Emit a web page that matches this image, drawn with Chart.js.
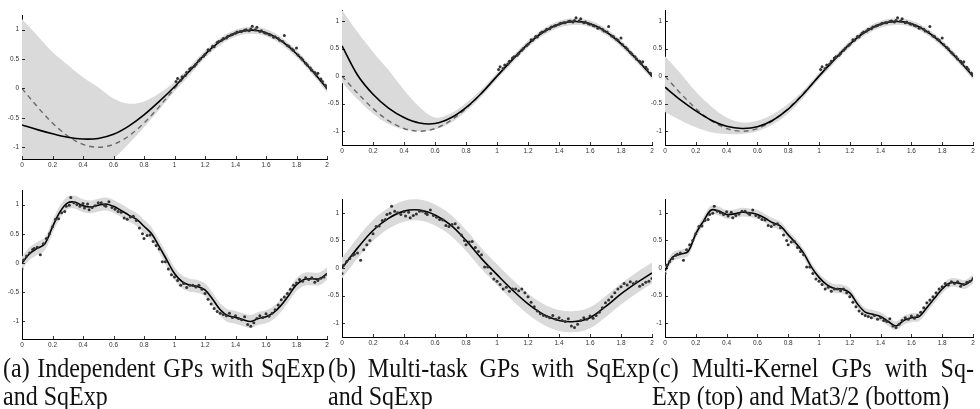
<!DOCTYPE html>
<html>
<head>
<meta charset="utf-8">
<script src="https://cdn.jsdelivr.net/npm/chart.js@4.4.0/dist/chart.umd.min.js"></script>
<style>
  body { margin: 0; background: #fff; width: 980px; height: 409px; position: relative; overflow: hidden; }
  canvas { position: absolute; }
  .cap { position: absolute; width: 322px; font-family: "Liberation Serif", "Times New Roman", serif; font-size: 24px; line-height: 23px;
         color: #111; transform: scaleY(1.18); transform-origin: 0 0; }
  .cap .l1 { display: flex; justify-content: space-between; white-space: nowrap; }
  .cap .l2 { white-space: nowrap; }
</style>
</head>
<body>

<canvas id="topA"></canvas>
<canvas id="topB"></canvas>
<canvas id="topC"></canvas>
<canvas id="botA"></canvas>
<canvas id="botB"></canvas>
<canvas id="botC"></canvas>

<div class="cap" style="left:3px; top:355px;">
  <div class="l1"><span>(a)</span><span>Independent</span><span>GPs</span><span>with</span><span>SqExp</span></div>
  <div class="l2">and SqExp</div>
</div>
<div class="cap" style="left:328px; top:355px;">
  <div class="l1"><span>(b)</span><span>Multi-task</span><span>GPs</span><span>with</span><span>SqExp</span></div>
  <div class="l2">and SqExp</div>
</div>
<div class="cap" style="left:652px; top:355px;">
  <div class="l1"><span>(c)</span><span>Multi-Kernel</span><span>GPs</span><span>with</span><span>Sq-</span></div>
  <div class="l2">Exp (top) and Mat3/2 (bottom)</div>
</div>

<script>
'use strict';

// tick labels
const xTicks = [0, 0.2, 0.4, 0.6, 0.8, 1, 1.2, 1.4, 1.6, 1.8, 2];
const yTicks = [-1, -0.5, 0, 0.5, 1];

// sample grids
const xGrid = [0, 0.1, 0.2, 0.3, 0.4, 0.5, 0.6, 0.7, 0.8, 0.9, 1, 1.1, 1.2, 1.3, 1.4, 1.5, 1.6, 1.7, 1.8, 1.9, 2];
const xFine = [0, 0.05, 0.1, 0.15, 0.2, 0.25, 0.3, 0.35, 0.4, 0.45, 0.5, 0.55, 0.6, 0.65, 0.7, 0.75, 0.8, 0.85, 0.9, 0.95,
  1, 1.05, 1.1, 1.15, 1.2, 1.25, 1.3, 1.35, 1.4, 1.45, 1.5, 1.55, 1.6, 1.65, 1.7, 1.75, 1.8, 1.85, 1.9, 1.95, 2];

// top row: true function (dashed), on xFine
const trueTop = [0, -0.156, -0.309, -0.454, -0.588, -0.707, -0.809, -0.891, -0.951, -0.988, -1, -0.988, -0.951, -0.891, -0.809, -0.707,
  -0.588, -0.454, -0.309, -0.156, 0, 0.156, 0.309, 0.454, 0.588, 0.707, 0.809, 0.891, 0.951, 0.988, 1, 0.988, 0.951, 0.891,
  0.809, 0.707, 0.588, 0.454, 0.309, 0.156, 0];

// top row observations (only on [1, 2])
const topPtsX = [1.01, 1.02, 1.04, 1.05, 1.07, 1.08, 1.10, 1.11, 1.13, 1.14, 1.16, 1.17, 1.19, 1.20, 1.22, 1.23, 1.25, 1.26, 1.28, 1.29,
  1.31, 1.32, 1.34, 1.35, 1.37, 1.38, 1.40, 1.41, 1.43, 1.44, 1.46, 1.47, 1.49, 1.50, 1.51, 1.53, 1.54, 1.56, 1.57, 1.59,
  1.60, 1.62, 1.63, 1.65, 1.66, 1.68, 1.69, 1.71, 1.72, 1.74, 1.75, 1.77, 1.78, 1.80, 1.81, 1.83, 1.84, 1.86, 1.87, 1.89,
  1.90, 1.92, 1.93, 1.94, 1.96, 1.97, 1.99, 2.00];
const topPtsY = [0.12, 0.17, 0.14, 0.20, 0.22, 0.27, 0.33, 0.35, 0.38, 0.41, 0.47, 0.50, 0.55, 0.58, 0.66, 0.65, 0.72, 0.71, 0.78, 0.80,
  0.82, 0.85, 0.86, 0.89, 0.91, 0.92, 0.94, 0.96, 0.97, 0.97, 0.99, 1.00, 0.98, 1.01, 1.06, 1.00, 1.04, 0.97, 0.98, 0.95,
  0.94, 0.92, 0.91, 0.87, 0.88, 0.85, 0.82, 0.80, 0.90, 0.73, 0.72, 0.67, 0.65, 0.69, 0.57, 0.52, 0.49, 0.43, 0.40, 0.35,
  0.31, 0.27, 0.23, 0.26, 0.16, 0.12, 0.05, 0.01];

// top row fits, on xGrid
const meanTopA  = [-0.62, -0.70, -0.77, -0.83, -0.86, -0.85, -0.78, -0.64, -0.45, -0.22, 0.03, 0.30, 0.58, 0.80, 0.94, 0.99, 0.95, 0.81, 0.59, 0.31, 0.00];
const upperTopA = [1.18, 0.90, 0.62, 0.40, 0.19, 0.02, -0.17, -0.26, -0.22, -0.08, 0.11, 0.37, 0.64, 0.86, 1.00, 1.05, 1.01, 0.87, 0.65, 0.37, 0.07];
const lowerTopA = [-2.40, -2.30, -2.15, -1.95, -1.70, -1.45, -1.20, -0.94, -0.66, -0.36, -0.05, 0.23, 0.52, 0.74, 0.88, 0.93, 0.89, 0.75, 0.53, 0.25, -0.07];

const meanTopB  = [0.55, 0.02, -0.33, -0.58, -0.75, -0.85, -0.86, -0.76, -0.57, -0.31, 0.00, 0.30, 0.58, 0.80, 0.94, 0.99, 0.95, 0.81, 0.59, 0.31, 0.00];
const upperTopB = [1.20, 0.80, 0.44, 0.11, -0.25, -0.56, -0.75, -0.68, -0.49, -0.24, 0.06, 0.36, 0.64, 0.86, 1.00, 1.05, 1.01, 0.87, 0.65, 0.37, 0.06];
const lowerTopB = [-0.12, -0.42, -0.68, -0.87, -0.97, -1.00, -0.97, -0.85, -0.64, -0.37, -0.06, 0.24, 0.52, 0.74, 0.88, 0.93, 0.89, 0.75, 0.53, 0.25, -0.06];

const meanTopC  = [-0.20, -0.43, -0.63, -0.80, -0.91, -0.95, -0.92, -0.80, -0.60, -0.32, 0.00, 0.30, 0.58, 0.80, 0.94, 0.99, 0.95, 0.81, 0.59, 0.31, 0.00];
const upperTopC = [0.36, 0.05, -0.28, -0.55, -0.75, -0.84, -0.81, -0.69, -0.50, -0.25, 0.06, 0.36, 0.64, 0.86, 1.00, 1.05, 1.01, 0.87, 0.65, 0.37, 0.06];
const lowerTopC = [-0.65, -0.80, -0.93, -1.02, -1.05, -1.05, -1.00, -0.88, -0.68, -0.39, -0.06, 0.24, 0.52, 0.74, 0.88, 0.93, 0.89, 0.75, 0.53, 0.25, -0.06];

// bottom row observations [x, y]
const botPoints = [[0.00, -0.10], [0.01, 0.05], [0.03, 0.12], [0.05, 0.17], [0.07, 0.23], [0.08, 0.25], [0.10, 0.27], [0.12, 0.14],
  [0.14, 0.33], [0.16, 0.42], [0.18, 0.50], [0.20, 0.62], [0.22, 0.75], [0.24, 0.76], [0.26, 0.86], [0.28, 0.88], [0.29, 0.97],
  [0.31, 0.99], [0.32, 1.12], [0.34, 1.03], [0.36, 1.00], [0.38, 0.97], [0.40, 1.02], [0.41, 0.94], [0.43, 1.01], [0.44, 0.91],
  [0.46, 0.95], [0.48, 0.98], [0.50, 1.03], [0.52, 1.03], [0.54, 0.99], [0.55, 0.97], [0.57, 1.05], [0.59, 0.95], [0.61, 0.92],
  [0.63, 0.88], [0.65, 0.87], [0.67, 0.77], [0.69, 0.75], [0.71, 0.79], [0.73, 0.80], [0.75, 0.73], [0.77, 0.60], [0.79, 0.50],
  [0.80, 0.42], [0.82, 0.47], [0.84, 0.48], [0.86, 0.37], [0.88, 0.30], [0.90, 0.24], [0.92, 0.02], [0.94, 0.02], [0.96, -0.10],
  [0.98, -0.20], [1.00, -0.24], [1.02, -0.30], [1.04, -0.38], [1.06, -0.35], [1.08, -0.42], [1.10, -0.38], [1.12, -0.38],
  [1.14, -0.41], [1.16, -0.38], [1.18, -0.45], [1.20, -0.52], [1.22, -0.62], [1.24, -0.70], [1.26, -0.78], [1.28, -0.83],
  [1.30, -0.86], [1.32, -0.88], [1.34, -0.90], [1.36, -0.86], [1.38, -0.93], [1.40, -0.90], [1.42, -0.95], [1.44, -0.97],
  [1.46, -0.92], [1.48, -1.05], [1.50, -1.08], [1.52, -1.02], [1.54, -0.95], [1.56, -0.90], [1.58, -0.93], [1.60, -0.87],
  [1.62, -0.91], [1.64, -0.86], [1.66, -0.80], [1.68, -0.72], [1.70, -0.63], [1.72, -0.58], [1.74, -0.52], [1.76, -0.45],
  [1.78, -0.38], [1.80, -0.34], [1.82, -0.28], [1.84, -0.31], [1.86, -0.25], [1.88, -0.28], [1.90, -0.25], [1.92, -0.33],
  [1.94, -0.30], [1.96, -0.26], [1.98, -0.24], [2.00, -0.19]];

// bottom row fits
const meanBotA  = [0.00, 0.16, 0.25, 0.33, 0.62, 0.88, 1.03, 1.04, 0.98, 0.96, 0.99, 1.01, 0.97, 0.90, 0.82, 0.75, 0.63, 0.50, 0.28, 0.05,
  -0.18, -0.32, -0.38, -0.40, -0.46, -0.62, -0.80, -0.90, -0.93, -0.97, -1.00, -0.95, -0.92, -0.85, -0.72, -0.55, -0.37, -0.28, -0.27, -0.27, -0.18];
const upperBotA = [0.11, 0.27, 0.36, 0.44, 0.73, 0.99, 1.14, 1.15, 1.09, 1.07, 1.10, 1.12, 1.08, 1.01, 0.93, 0.86, 0.74, 0.61, 0.39, 0.16,
  -0.07, -0.21, -0.27, -0.29, -0.35, -0.51, -0.69, -0.79, -0.82, -0.86, -0.89, -0.84, -0.81, -0.74, -0.61, -0.44, -0.26, -0.17, -0.16, -0.16, -0.07];
const lowerBotA = [-0.11, 0.05, 0.14, 0.22, 0.51, 0.77, 0.92, 0.93, 0.87, 0.85, 0.88, 0.90, 0.86, 0.79, 0.71, 0.64, 0.52, 0.39, 0.17, -0.06,
  -0.29, -0.43, -0.49, -0.51, -0.57, -0.73, -0.91, -1.01, -1.04, -1.08, -1.11, -1.06, -1.03, -0.96, -0.83, -0.66, -0.48, -0.39, -0.38, -0.38, -0.29];

const meanBotB  = [0.00, 0.36, 0.68, 0.90, 1.03, 1.05, 0.96, 0.78, 0.50, 0.17, -0.12, -0.40, -0.65, -0.84, -0.95, -0.97, -0.90, -0.70, -0.47, -0.27, -0.09];
const upperBotB = [0.19, 0.55, 0.87, 1.09, 1.22, 1.24, 1.15, 0.97, 0.69, 0.36, 0.07, -0.21, -0.46, -0.65, -0.76, -0.78, -0.71, -0.51, -0.28, -0.08, 0.10];
const lowerBotB = [-0.19, 0.17, 0.49, 0.71, 0.84, 0.86, 0.77, 0.59, 0.31, -0.02, -0.31, -0.59, -0.84, -1.03, -1.14, -1.16, -1.09, -0.89, -0.66, -0.46, -0.28];

const meanBotC  = [-0.05, 0.20, 0.25, 0.30, 0.62, 0.85, 1.05, 1.03, 0.97, 0.98, 1.01, 1.00, 0.97, 0.90, 0.82, 0.76, 0.60, 0.45, 0.27, 0.02,
  -0.17, -0.30, -0.37, -0.38, -0.45, -0.65, -0.80, -0.84, -0.88, -0.97, -1.05, -0.95, -0.90, -0.88, -0.72, -0.55, -0.38, -0.27, -0.27, -0.30, -0.20];
const upperBotC = [0.03, 0.28, 0.33, 0.38, 0.70, 0.93, 1.13, 1.11, 1.05, 1.06, 1.09, 1.08, 1.05, 0.98, 0.90, 0.84, 0.68, 0.53, 0.35, 0.10,
  -0.09, -0.22, -0.29, -0.30, -0.37, -0.57, -0.72, -0.76, -0.80, -0.89, -0.97, -0.87, -0.82, -0.80, -0.64, -0.47, -0.30, -0.19, -0.19, -0.22, -0.12];
const lowerBotC = [-0.13, 0.12, 0.17, 0.22, 0.54, 0.77, 0.97, 0.95, 0.89, 0.90, 0.93, 0.92, 0.89, 0.82, 0.74, 0.68, 0.52, 0.37, 0.19, -0.06,
  -0.25, -0.38, -0.45, -0.46, -0.53, -0.73, -0.88, -0.92, -0.96, -1.05, -1.13, -1.03, -0.98, -0.96, -0.80, -0.63, -0.46, -0.35, -0.35, -0.38, -0.28];

const BAND = '#dadada';
const Y_W = 20, X_H = 14, PAD_T = 4, PAD_R = 6;

function pairs(xs, ys) {
  return xs.map((x, i) => ({ x: x, y: ys[i] }));
}

// MATLAB style ticks pointing into the plot
const inwardTicks = {
  id: 'inwardTicks',
  afterDraw(chart) {
    const { ctx, chartArea: a, scales: { x, y } } = chart;
    ctx.save();
    ctx.strokeStyle = '#000';
    ctx.lineWidth = 0.8;
    ctx.beginPath();
    x.ticks.forEach(t => {
      const px = Math.round(x.getPixelForValue(t.value)) + 0.5;
      ctx.moveTo(px, a.bottom);
      ctx.lineTo(px, a.bottom - 3);
    });
    y.ticks.forEach(t => {
      const py = Math.round(y.getPixelForValue(t.value)) + 0.5;
      ctx.moveTo(a.left, py);
      ctx.lineTo(a.left + 3, py);
    });
    ctx.stroke();
    ctx.restore();
  }
};

function makePanel(id, box, ymin, ymax, sets) {
  const canvas = document.getElementById(id);
  const w = Y_W + box.w + PAD_R;
  const h = PAD_T + box.h + X_H;
  canvas.width = w;
  canvas.height = h;
  canvas.style.left = (box.left - Y_W) + 'px';
  canvas.style.top = (box.top - PAD_T) + 'px';
  canvas.style.width = w + 'px';
  canvas.style.height = h + 'px';

  const datasets = [
    {
      data: sets.points, showLine: false, pointRadius: 1.5, pointBorderWidth: 0,
      pointBackgroundColor: '#333', borderColor: '#333', order: 0
    },
    {
      data: pairs(sets.xs, sets.mean), borderColor: '#000', borderWidth: 1.6, pointRadius: 0,
      tension: 0.35, order: 1
    }
  ];
  if (sets.truth) {
    datasets.push({
      data: pairs(xFine, sets.truth), borderColor: '#6a6a6a', borderWidth: 1.4, borderDash: [5, 4],
      pointRadius: 0, tension: 0.35, order: 2
    });
  }
  const upIdx = datasets.length;
  datasets.push({
    data: pairs(sets.xs, sets.upper), borderWidth: 0, pointRadius: 0, backgroundColor: BAND,
    fill: upIdx + 1, tension: 0.35, order: 3
  });
  datasets.push({
    data: pairs(sets.xs, sets.lower), borderWidth: 0, pointRadius: 0,
    fill: false, tension: 0.35, order: 4
  });

  const tickFont = { family: '"Liberation Sans", Arial, sans-serif', size: 6.5 };

  new Chart(canvas, {
    type: 'line',
    data: { datasets: datasets },
    options: {
      responsive: false,
      animation: false,
      devicePixelRatio: 1,
      layout: { padding: { top: PAD_T, right: PAD_R, left: 0, bottom: 0 } },
      plugins: { legend: { display: false }, tooltip: { enabled: false } },
      scales: {
        x: {
          type: 'linear', min: 0, max: 2,
          afterBuildTicks: s => { s.ticks = xTicks.map(v => ({ value: v })); },
          afterFit: s => { s.height = X_H; s.paddingLeft = 0; s.paddingRight = 0; },
          grid: { display: true, drawOnChartArea: false, drawTicks: false },
          border: { display: true, color: '#000', width: 1 },
          ticks: { padding: 2, font: tickFont, color: '#333', maxRotation: 0, autoSkip: false, callback: v => String(v) }
        },
        y: {
          type: 'linear', min: ymin, max: ymax,
          afterBuildTicks: s => { s.ticks = yTicks.map(v => ({ value: v })); },
          afterFit: s => { s.width = Y_W; s.paddingTop = 0; s.paddingBottom = 0; },
          grid: { display: true, drawOnChartArea: false, drawTicks: false },
          border: { display: true, color: '#000', width: 1 },
          ticks: { padding: 3, font: tickFont, color: '#333', autoSkip: false, callback: v => String(v) }
        }
      }
    },
    plugins: [inwardTicks]
  });
}

const topPoints = pairs(topPtsX, topPtsY);
const bottomPoints = botPoints.map(p => ({ x: p[0], y: p[1] }));

makePanel('topA', { left: 22, top: 15, w: 305, h: 144 }, -1.2, 1.25,
  { points: topPoints, xs: xGrid, mean: meanTopA, upper: upperTopA, lower: lowerTopA, truth: trueTop });
makePanel('topB', { left: 342, top: 10, w: 310, h: 135 }, -1.25, 1.2,
  { points: topPoints, xs: xGrid, mean: meanTopB, upper: upperTopB, lower: lowerTopB, truth: trueTop });
makePanel('topC', { left: 665, top: 10, w: 308, h: 135 }, -1.25, 1.2,
  { points: topPoints, xs: xGrid, mean: meanTopC, upper: upperTopC, lower: lowerTopC, truth: trueTop });
makePanel('botA', { left: 22, top: 190, w: 305, h: 149 }, -1.3, 1.25,
  { points: bottomPoints, xs: xFine, mean: meanBotA, upper: upperBotA, lower: lowerBotA });
makePanel('botB', { left: 342, top: 199, w: 310, h: 138 }, -1.25, 1.25,
  { points: bottomPoints, xs: xGrid, mean: meanBotB, upper: upperBotB, lower: lowerBotB });
makePanel('botC', { left: 665, top: 199, w: 308, h: 138 }, -1.25, 1.25,
  { points: bottomPoints, xs: xFine, mean: meanBotC, upper: upperBotC, lower: lowerBotC });
</script>
</body>
</html>
